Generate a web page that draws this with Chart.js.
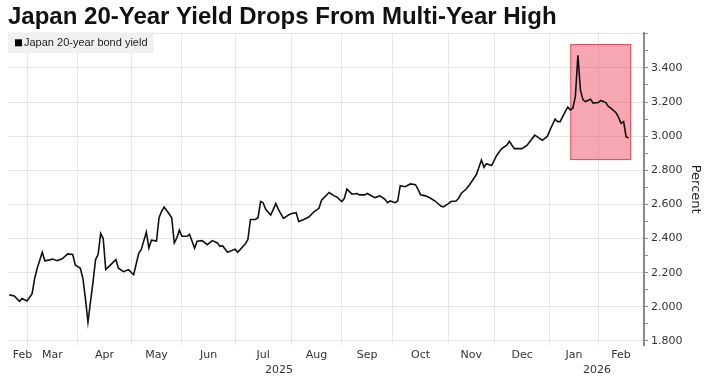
<!DOCTYPE html>
<html>
<head>
<meta charset="utf-8">
<script src="https://cdn.jsdelivr.net/npm/chart.js@4.4.1/dist/chart.umd.min.js"></script>
<style>
  html, body { margin: 0; padding: 0; background: #fff; }
  #wrap { width: 707px; height: 376px; }
</style>
</head>
<body>
<div id="wrap"><canvas id="chart" width="707" height="376"></canvas></div>
<script>
// Text
const chartTitle = 'Japan 20-Year Yield Drops From Multi-Year High';
const seriesName = 'Japan 20-year bond yield';
const axisTitle = 'Percent';

// Tokyo market holidays falling on weekdays (the x axis counts trading days)
const holidays = ['2025-02-24', '2025-03-20', '2025-04-29', '2025-05-05', '2025-05-06',
  '2025-07-21', '2025-08-11', '2025-09-15', '2025-09-23', '2025-10-13', '2025-11-03',
  '2025-11-24', '2025-12-31', '2026-01-01', '2026-01-02', '2026-01-12', '2026-02-11', '2026-02-23'];

// Japan 20-year bond yield
const dates = [
  '2025-02-19', '2025-02-21', '2025-02-26', '2025-02-27', '2025-03-03', '2025-03-05', '2025-03-06', '2025-03-07',
  '2025-03-11', '2025-03-12', '2025-03-14', '2025-03-17', '2025-03-19', '2025-03-24', '2025-03-26', '2025-03-28',
  '2025-03-31', '2025-04-02', '2025-04-03', '2025-04-04', '2025-04-07', '2025-04-09', '2025-04-10', '2025-04-11',
  '2025-04-14', '2025-04-15', '2025-04-16', '2025-04-18', '2025-04-22', '2025-04-23', '2025-04-25', '2025-04-30',
  '2025-05-02', '2025-05-08', '2025-05-09', '2025-05-13', '2025-05-14', '2025-05-15', '2025-05-19', '2025-05-20',
  '2025-05-21', '2025-05-22', '2025-05-26', '2025-05-27', '2025-05-28', '2025-05-29', '2025-05-30', '2025-06-02',
  '2025-06-04', '2025-06-05', '2025-06-09', '2025-06-10', '2025-06-12', '2025-06-16', '2025-06-18', '2025-06-20',
  '2025-06-23', '2025-06-24', '2025-06-26', '2025-07-01', '2025-07-02', '2025-07-07', '2025-07-08', '2025-07-09',
  '2025-07-11', '2025-07-14', '2025-07-15', '2025-07-16', '2025-07-17', '2025-07-22', '2025-07-24', '2025-07-25',
  '2025-07-29', '2025-07-31', '2025-08-01', '2025-08-05', '2025-08-06', '2025-08-08', '2025-08-13', '2025-08-15',
  '2025-08-19', '2025-08-20', '2025-08-25', '2025-08-27', '2025-08-28', '2025-09-01', '2025-09-02', '2025-09-03',
  '2025-09-05', '2025-09-09', '2025-09-10', '2025-09-12', '2025-09-16', '2025-09-19', '2025-09-24', '2025-09-26',
  '2025-09-29', '2025-09-30', '2025-10-02', '2025-10-03', '2025-10-06', '2025-10-08', '2025-10-10', '2025-10-15',
  '2025-10-16', '2025-10-17', '2025-10-21', '2025-10-23', '2025-10-27', '2025-10-29', '2025-10-30', '2025-11-04',
  '2025-11-05', '2025-11-07', '2025-11-10', '2025-11-11', '2025-11-13', '2025-11-14', '2025-11-17', '2025-11-19',
  '2025-11-21', '2025-11-25', '2025-11-26', '2025-11-28', '2025-12-02', '2025-12-04', '2025-12-08', '2025-12-09',
  '2025-12-10', '2025-12-11', '2025-12-16', '2025-12-18', '2025-12-23', '2025-12-24', '2025-12-26', '2025-12-30',
  '2026-01-05', '2026-01-07', '2026-01-08', '2026-01-09', '2026-01-14', '2026-01-15', '2026-01-16', '2026-01-19',
  '2026-01-20', '2026-01-21', '2026-01-22', '2026-01-23', '2026-01-26', '2026-01-28', '2026-01-29', '2026-02-02',
  '2026-02-03', '2026-02-05', '2026-02-06', '2026-02-09', '2026-02-12', '2026-02-13', '2026-02-16', '2026-02-17',
  '2026-02-18', '2026-02-19'
];
const yields = [
  2.070, 2.064, 2.032, 2.048, 2.034, 2.077, 2.166, 2.226,
  2.320, 2.270, 2.275, 2.280, 2.270, 2.283, 2.310, 2.306,
  2.245, 2.226, 2.166, 2.048, 1.910, 2.147, 2.277, 2.306,
  2.430, 2.400, 2.218, 2.247, 2.277, 2.226, 2.206, 2.218,
  2.188, 2.314, 2.336, 2.438, 2.344, 2.390, 2.385, 2.522,
  2.560, 2.585, 2.544, 2.522, 2.374, 2.403, 2.449, 2.413,
  2.413, 2.425, 2.344, 2.384, 2.388, 2.364, 2.388, 2.374,
  2.354, 2.358, 2.320, 2.338, 2.320, 2.370, 2.394, 2.512,
  2.512, 2.522, 2.617, 2.610, 2.571, 2.538, 2.605, 2.571,
  2.518, 2.538, 2.545, 2.552, 2.500, 2.512, 2.526, 2.557,
  2.577, 2.625, 2.670, 2.650, 2.644, 2.617, 2.636, 2.690,
  2.660, 2.664, 2.656, 2.656, 2.664, 2.640, 2.650, 2.630,
  2.610, 2.620, 2.610, 2.620, 2.710, 2.704, 2.720, 2.716,
  2.690, 2.656, 2.650, 2.636, 2.617, 2.590, 2.585, 2.605,
  2.617, 2.620, 2.636, 2.664, 2.690, 2.710, 2.730, 2.775,
  2.860, 2.818, 2.838, 2.828, 2.887, 2.927, 2.947, 2.970,
  2.947, 2.927, 2.927, 2.947, 3.006, 2.996, 2.976, 3.000,
  3.036, 3.100, 3.085, 3.085, 3.144, 3.170, 3.154, 3.164,
  3.233, 3.474, 3.270, 3.213, 3.203, 3.217, 3.194, 3.197,
  3.209, 3.197, 3.174, 3.164, 3.138, 3.110, 3.075, 3.085,
  2.996, 2.990
];

// Axis labels
const monthLabels = ['Feb', 'Mar', 'Apr', 'May', 'Jun', 'Jul', 'Aug', 'Sep', 'Oct', 'Nov', 'Dec', 'Jan', 'Feb'];
const yearLabels = ['2025', '2026'];
const yTicks = [1.8, 1.9, 2.0, 2.1, 2.2, 2.3, 2.4, 2.5, 2.6, 2.7, 2.8, 2.9, 3.0, 3.1, 3.2, 3.3, 3.4, 3.5, 3.6];

// Highlighted window
const highlightStart = '2026-01-16';
const highlightEnd = '2026-02-20';
const highlightHigh = 3.54;
const highlightLow = 2.86;

// Build trading-day calendar
function buildTradingDays(start, end) {
    const days = [];
    const d = new Date(start + 'T00:00:00Z');
    const stop = new Date(end + 'T00:00:00Z');
    while (d <= stop) {
        const wd = d.getUTCDay();
        const iso = d.toISOString().slice(0, 10);
        if (wd !== 0 && wd !== 6 && !holidays.includes(iso)) days.push(iso);
        d.setUTCDate(d.getUTCDate() + 1);
    }
    return days;
}

const tradingDays = buildTradingDays('2025-02-17', '2026-03-02');
function dayIndex(date) {
    const i = tradingDays.findIndex(d => d >= date);
    return i < 0 ? tradingDays.length - 1 : i;
}

const xMin = 1.5;
const xMax = tradingDays.length - 1;

// first trading day of each month
const monthStarts = [];
tradingDays.forEach((d, i) => {
    if (i === 0 || d.slice(0, 7) !== tradingDays[i - 1].slice(0, 7)) monthStarts.push(i);
});
const gridTicks = monthStarts.filter(v => v > xMin && v <= xMax);
const labelTicks = [];
for (let i = 0; i < monthStarts.length - 1; i++) {
    const a = Math.max(monthStarts[i], xMin);
    const b = Math.min(monthStarts[i + 1], xMax);
    labelTicks.push((a + b) / 2);
}
// first month is cut off at the left edge, its label sits a little right of centre
labelTicks[0] += 2;
const yearStart = dayIndex('2026-01-01');
const yearTicks = [(xMin + yearStart) / 2, (yearStart + xMax) / 2];

const points = dates.map((d, i) => ({ x: dayIndex(d), y: yields[i] }));

// Plugins
const highlightBox = {
    id: 'highlightBox',
    beforeDatasetsDraw(chart) {
        const { ctx, scales } = chart;
        const x1 = scales.x.getPixelForValue(dayIndex(highlightStart));
        const x2 = scales.x.getPixelForValue(dayIndex(highlightEnd));
        const y1 = scales.y.getPixelForValue(highlightHigh);
        const y2 = scales.y.getPixelForValue(highlightLow);
        ctx.save();
        ctx.fillStyle = 'rgba(240, 80, 100, 0.5)';
        ctx.fillRect(x1, y1, x2 - x1, y2 - y1);
        ctx.strokeStyle = '#e0505f';
        ctx.lineWidth = 1;
        ctx.strokeRect(x1 + 0.5, y1 + 0.5, x2 - x1 - 1, y2 - y1 - 1);
        ctx.restore();
    }
};

const legendBox = {
    id: 'legendBox',
    afterDatasetsDraw(chart) {
        const { ctx, chartArea } = chart;
        const left = chartArea.left;
        const top = chartArea.top - 1;
        ctx.save();
        ctx.font = '11px "Liberation Sans", Arial, sans-serif';
        const w = ctx.measureText(seriesName).width;
        ctx.fillStyle = '#f0f0f0';
        ctx.fillRect(left, top, w + 22, 21);
        ctx.fillStyle = '#000';
        ctx.fillRect(left + 7, top + 7, 7, 7);
        ctx.fillStyle = '#222';
        ctx.textBaseline = 'middle';
        ctx.fillText(seriesName, left + 16, top + 11);
        ctx.restore();
    }
};

Chart.defaults.font.family = '"DejaVu Sans", sans-serif';

const ctx = document.getElementById('chart').getContext('2d');
const yieldChart = new Chart(ctx, {
    type: 'line',
    data: {
        datasets: [{
            label: seriesName,
            data: points,
            borderColor: '#111',
            borderWidth: 1.6,
            pointRadius: 0,
            tension: 0,
            fill: false
        }]
    },
    options: {
        responsive: false,
        animation: false,
        layout: { padding: { left: 8, right: 0, top: 0, bottom: 0 } },
        plugins: {
            legend: { display: false },
            tooltip: { enabled: false },
            title: {
                display: true,
                text: chartTitle,
                align: 'start',
                color: '#111',
                font: { family: '"Liberation Sans", Arial, sans-serif', size: 24, weight: 'bold' },
                padding: { top: 3, bottom: 1.5 }
            }
        },
        scales: {
            x: {
                type: 'linear',
                position: 'bottom',
                min: xMin,
                max: xMax,
                afterBuildTicks: scale => { scale.ticks = gridTicks.map(v => ({ value: v })); },
                ticks: { display: false },
                grid: { color: '#e6e6e6', drawTicks: false },
                border: { display: false }
            },
            x2: {
                type: 'linear',
                position: 'bottom',
                min: xMin,
                max: xMax,
                afterBuildTicks: scale => { scale.ticks = labelTicks.map(v => ({ value: v })); },
                ticks: {
                    autoSkip: false,
                    maxRotation: 0,
                    padding: 4.5,
                    color: '#333',
                    font: { size: 11, lineHeight: 1 },
                    callback: (value, index) => monthLabels[index]
                },
                grid: { display: false, drawTicks: false },
                border: { display: false }
            },
            x3: {
                type: 'linear',
                position: 'bottom',
                min: xMin,
                max: xMax,
                afterBuildTicks: scale => { scale.ticks = yearTicks.map(v => ({ value: v })); },
                ticks: {
                    autoSkip: false,
                    maxRotation: 0,
                    padding: 0,
                    color: '#333',
                    font: { size: 11, lineHeight: 1 },
                    callback: (value, index) => yearLabels[index]
                },
                grid: { display: false, drawTicks: false },
                border: { display: false }
            },
            y: {
                type: 'linear',
                position: 'right',
                min: 1.776,
                max: 3.603,
                afterBuildTicks: scale => { scale.ticks = yTicks.map(v => ({ value: v })); },
                ticks: {
                    padding: 3,
                    color: '#333',
                    font: { size: 11 },
                    callback: (value, index) => (index % 2 === 0 && value < 3.5 ? value.toFixed(3) : '')
                },
                grid: {
                    color: c => (c.index % 2 === 0 ? '#e4e4e4' : 'rgba(0,0,0,0)'),
                    tickColor: '#888',
                    tickLength: 4
                },
                border: { display: true, color: '#8a8a8a', width: 2 },
                title: {
                    display: true,
                    text: axisTitle,
                    color: '#222',
                    font: { size: 13 },
                    padding: { top: 4, bottom: 2 }
                }
            }
        }
    },
    plugins: [highlightBox, legendBox]
});
</script>
</body>
</html>
